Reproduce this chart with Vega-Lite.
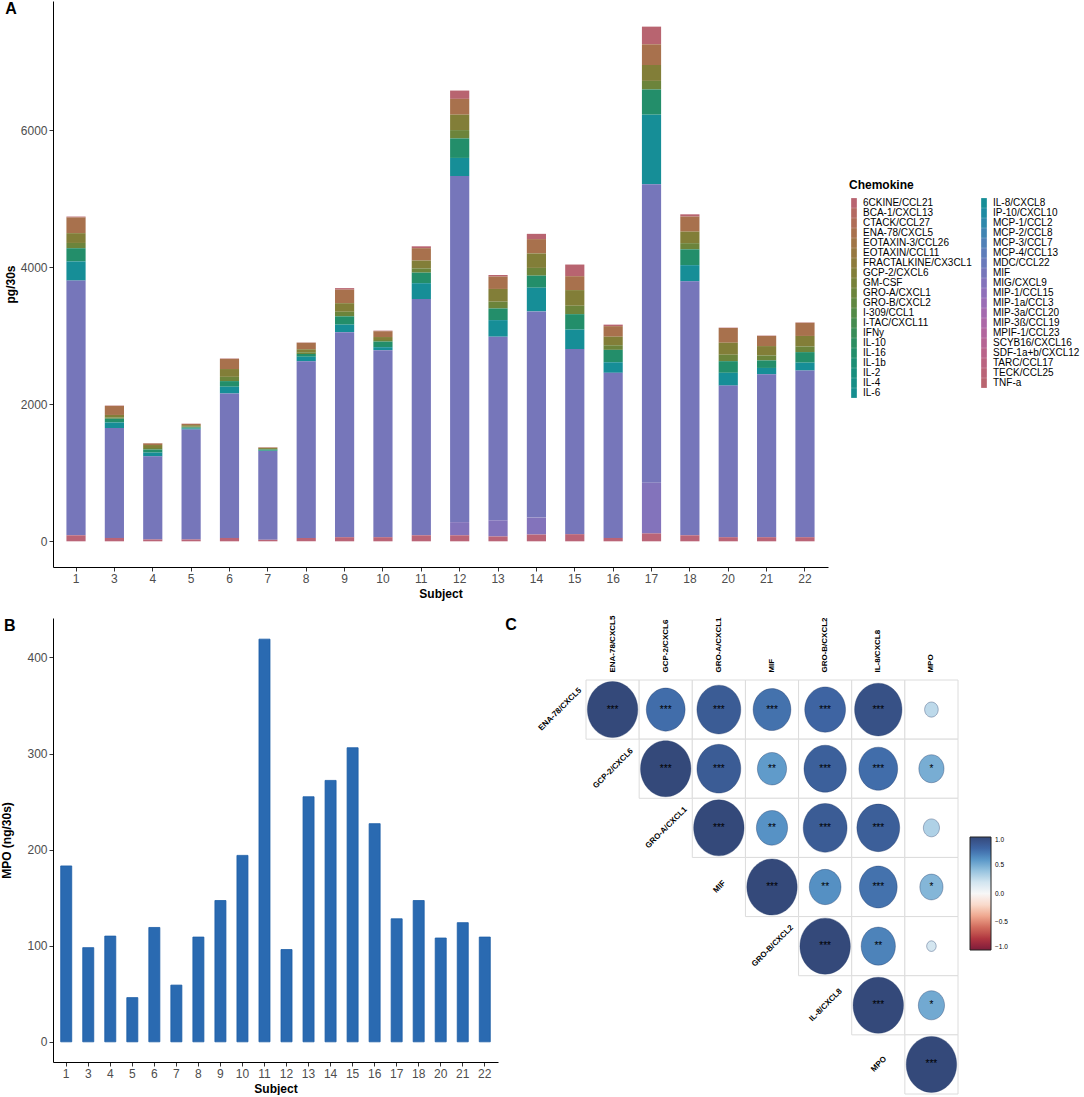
{
  "$schema": "https://vega.github.io/schema/vega-lite/v6.json",
  "background": "white",
  "padding": {"left": 0, "top": 1, "right": 0, "bottom": 0},
  "config": {
    "font": "Liberation Sans",
    "view": {"stroke": null},
    "axis": {"grid": false, "domainColor": "#000000", "domainWidth": 1, "tickColor": "#333333", "tickWidth": 1, "tickSize": 4, "labelPadding": 2, "labelColor": "#4D4D4D", "labelFontSize": 12, "labelFont": "Liberation Sans", "titleFont": "Liberation Sans", "titleFontSize": 12, "titleFontWeight": "bold", "titleColor": "#000000"},
    "title": {"font": "Liberation Sans", "fontSize": 16, "fontWeight": "bold", "color": "#000000", "anchor": "start", "frame": "bounds"}
  },
  "resolve": {"scale": {"color": "independent", "size": "independent"}, "legend": {"color": "independent", "size": "independent"}},
  "spacing": 16,
  "vconcat": [
    {
      "width": 775,
      "height": 566,
      "title": {"text": "A", "orient": "top", "offset": -16, "baseline": "top", "dx": 1},
      "data": {"values": [
        {"Subject":"1","Chemokine":"6CKINE/CCL21","value":12},{"Subject":"1","Chemokine":"ENA-78/CXCL5","value":230},{"Subject":"1","Chemokine":"GCP-2/CXCL6","value":143},{"Subject":"1","Chemokine":"GRO-A/CXCL1","value":77},{"Subject":"1","Chemokine":"IL-16","value":192},{"Subject":"1","Chemokine":"IL-8/CXCL8","value":280},{"Subject":"1","Chemokine":"MIF","value":3717},{"Subject":"1","Chemokine":"TECK/CCL25","value":88},
        {"Subject":"3","Chemokine":"6CKINE/CCL21","value":5},{"Subject":"3","Chemokine":"ENA-78/CXCL5","value":132},{"Subject":"3","Chemokine":"GCP-2/CXCL6","value":36},{"Subject":"3","Chemokine":"GRO-A/CXCL1","value":19},{"Subject":"3","Chemokine":"IL-16","value":55},{"Subject":"3","Chemokine":"IL-8/CXCL8","value":82},{"Subject":"3","Chemokine":"MIF","value":1603},{"Subject":"3","Chemokine":"TECK/CCL25","value":49},
        {"Subject":"4","Chemokine":"6CKINE/CCL21","value":3},{"Subject":"4","Chemokine":"ENA-78/CXCL5","value":24},{"Subject":"4","Chemokine":"GCP-2/CXCL6","value":43},{"Subject":"4","Chemokine":"GRO-A/CXCL1","value":23},{"Subject":"4","Chemokine":"IL-16","value":44},{"Subject":"4","Chemokine":"IL-8/CXCL8","value":55},{"Subject":"4","Chemokine":"MIF","value":1213},{"Subject":"4","Chemokine":"TECK/CCL25","value":27},
        {"Subject":"5","Chemokine":"6CKINE/CCL21","value":3},{"Subject":"5","Chemokine":"ENA-78/CXCL5","value":19},{"Subject":"5","Chemokine":"GCP-2/CXCL6","value":21},{"Subject":"5","Chemokine":"GRO-A/CXCL1","value":12},{"Subject":"5","Chemokine":"IL-16","value":16},{"Subject":"5","Chemokine":"IL-8/CXCL8","value":16},{"Subject":"5","Chemokine":"MIF","value":1603},{"Subject":"5","Chemokine":"TECK/CCL25","value":27},
        {"Subject":"6","Chemokine":"6CKINE/CCL21","value":5},{"Subject":"6","Chemokine":"ENA-78/CXCL5","value":149},{"Subject":"6","Chemokine":"GCP-2/CXCL6","value":114},{"Subject":"6","Chemokine":"GRO-A/CXCL1","value":62},{"Subject":"6","Chemokine":"IL-16","value":82},{"Subject":"6","Chemokine":"IL-8/CXCL8","value":99},{"Subject":"6","Chemokine":"MIF","value":2108},{"Subject":"6","Chemokine":"TECK/CCL25","value":49},
        {"Subject":"7","Chemokine":"6CKINE/CCL21","value":3},{"Subject":"7","Chemokine":"ENA-78/CXCL5","value":8},{"Subject":"7","Chemokine":"GCP-2/CXCL6","value":14},{"Subject":"7","Chemokine":"GRO-A/CXCL1","value":8},{"Subject":"7","Chemokine":"IL-16","value":16},{"Subject":"7","Chemokine":"IL-8/CXCL8","value":5},{"Subject":"7","Chemokine":"MIF","value":1296},{"Subject":"7","Chemokine":"TECK/CCL25","value":22},
        {"Subject":"8","Chemokine":"6CKINE/CCL21","value":5},{"Subject":"8","Chemokine":"ENA-78/CXCL5","value":94},{"Subject":"8","Chemokine":"GCP-2/CXCL6","value":46},{"Subject":"8","Chemokine":"GRO-A/CXCL1","value":25},{"Subject":"8","Chemokine":"IL-16","value":38},{"Subject":"8","Chemokine":"IL-8/CXCL8","value":66},{"Subject":"8","Chemokine":"MIF","value":2580},{"Subject":"8","Chemokine":"TECK/CCL25","value":49},
        {"Subject":"9","Chemokine":"6CKINE/CCL21","value":22},{"Subject":"9","Chemokine":"ENA-78/CXCL5","value":198},{"Subject":"9","Chemokine":"GCP-2/CXCL6","value":125},{"Subject":"9","Chemokine":"GRO-A/CXCL1","value":67},{"Subject":"9","Chemokine":"IL-16","value":121},{"Subject":"9","Chemokine":"IL-8/CXCL8","value":110},{"Subject":"9","Chemokine":"MIF","value":2992},{"Subject":"9","Chemokine":"TECK/CCL25","value":60},
        {"Subject":"10","Chemokine":"6CKINE/CCL21","value":8},{"Subject":"10","Chemokine":"ENA-78/CXCL5","value":85},{"Subject":"10","Chemokine":"GCP-2/CXCL6","value":43},{"Subject":"10","Chemokine":"GRO-A/CXCL1","value":23},{"Subject":"10","Chemokine":"IL-16","value":82},{"Subject":"10","Chemokine":"IL-8/CXCL8","value":44},{"Subject":"10","Chemokine":"MIF","value":2729},{"Subject":"10","Chemokine":"TECK/CCL25","value":60},
        {"Subject":"11","Chemokine":"6CKINE/CCL21","value":27},{"Subject":"11","Chemokine":"ENA-78/CXCL5","value":181},{"Subject":"11","Chemokine":"GCP-2/CXCL6","value":114},{"Subject":"11","Chemokine":"GRO-A/CXCL1","value":62},{"Subject":"11","Chemokine":"IL-16","value":154},{"Subject":"11","Chemokine":"IL-8/CXCL8","value":231},{"Subject":"11","Chemokine":"MIF","value":3448},{"Subject":"11","Chemokine":"TECK/CCL25","value":88},
        {"Subject":"12","Chemokine":"6CKINE/CCL21","value":121},{"Subject":"12","Chemokine":"ENA-78/CXCL5","value":231},{"Subject":"12","Chemokine":"GCP-2/CXCL6","value":225},{"Subject":"12","Chemokine":"GRO-A/CXCL1","value":121},{"Subject":"12","Chemokine":"IL-16","value":285},{"Subject":"12","Chemokine":"IL-8/CXCL8","value":264},{"Subject":"12","Chemokine":"MIF","value":5051},{"Subject":"12","Chemokine":"MIG/CXCL9","value":192},{"Subject":"12","Chemokine":"TECK/CCL25","value":88},
        {"Subject":"13","Chemokine":"6CKINE/CCL21","value":22},{"Subject":"13","Chemokine":"ENA-78/CXCL5","value":181},{"Subject":"13","Chemokine":"GCP-2/CXCL6","value":185},{"Subject":"13","Chemokine":"GRO-A/CXCL1","value":100},{"Subject":"13","Chemokine":"IL-16","value":170},{"Subject":"13","Chemokine":"IL-8/CXCL8","value":242},{"Subject":"13","Chemokine":"MIF","value":2679},{"Subject":"13","Chemokine":"MIG/CXCL9","value":236},{"Subject":"13","Chemokine":"TECK/CCL25","value":71},
        {"Subject":"14","Chemokine":"6CKINE/CCL21","value":77},{"Subject":"14","Chemokine":"ENA-78/CXCL5","value":209},{"Subject":"14","Chemokine":"GCP-2/CXCL6","value":211},{"Subject":"14","Chemokine":"GRO-A/CXCL1","value":113},{"Subject":"14","Chemokine":"IL-16","value":176},{"Subject":"14","Chemokine":"IL-8/CXCL8","value":346},{"Subject":"14","Chemokine":"MIF","value":3009},{"Subject":"14","Chemokine":"MIG/CXCL9","value":247},{"Subject":"14","Chemokine":"TECK/CCL25","value":99},
        {"Subject":"15","Chemokine":"6CKINE/CCL21","value":170},{"Subject":"15","Chemokine":"ENA-78/CXCL5","value":203},{"Subject":"15","Chemokine":"GCP-2/CXCL6","value":228},{"Subject":"15","Chemokine":"GRO-A/CXCL1","value":123},{"Subject":"15","Chemokine":"IL-16","value":225},{"Subject":"15","Chemokine":"IL-8/CXCL8","value":285},{"Subject":"15","Chemokine":"MIF","value":2701},{"Subject":"15","Chemokine":"TECK/CCL25","value":104},
        {"Subject":"16","Chemokine":"6CKINE/CCL21","value":22},{"Subject":"16","Chemokine":"ENA-78/CXCL5","value":154},{"Subject":"16","Chemokine":"GCP-2/CXCL6","value":125},{"Subject":"16","Chemokine":"GRO-A/CXCL1","value":67},{"Subject":"16","Chemokine":"IL-16","value":181},{"Subject":"16","Chemokine":"IL-8/CXCL8","value":154},{"Subject":"16","Chemokine":"MIF","value":2410},{"Subject":"16","Chemokine":"TECK/CCL25","value":49},
        {"Subject":"17","Chemokine":"6CKINE/CCL21","value":258},{"Subject":"17","Chemokine":"ENA-78/CXCL5","value":302},{"Subject":"17","Chemokine":"GCP-2/CXCL6","value":232},{"Subject":"17","Chemokine":"GRO-A/CXCL1","value":125},{"Subject":"17","Chemokine":"IL-16","value":368},{"Subject":"17","Chemokine":"IL-8/CXCL8","value":1016},{"Subject":"17","Chemokine":"MIF","value":4354},{"Subject":"17","Chemokine":"MIG/CXCL9","value":741},{"Subject":"17","Chemokine":"TECK/CCL25","value":115},
        {"Subject":"18","Chemokine":"6CKINE/CCL21","value":33},{"Subject":"18","Chemokine":"ENA-78/CXCL5","value":220},{"Subject":"18","Chemokine":"GCP-2/CXCL6","value":168},{"Subject":"18","Chemokine":"GRO-A/CXCL1","value":90},{"Subject":"18","Chemokine":"IL-16","value":231},{"Subject":"18","Chemokine":"IL-8/CXCL8","value":236},{"Subject":"18","Chemokine":"MIF","value":3706},{"Subject":"18","Chemokine":"TECK/CCL25","value":88},
        {"Subject":"20","Chemokine":"6CKINE/CCL21","value":5},{"Subject":"20","Chemokine":"ENA-78/CXCL5","value":215},{"Subject":"20","Chemokine":"GCP-2/CXCL6","value":175},{"Subject":"20","Chemokine":"GRO-A/CXCL1","value":94},{"Subject":"20","Chemokine":"IL-16","value":170},{"Subject":"20","Chemokine":"IL-8/CXCL8","value":187},{"Subject":"20","Chemokine":"MIF","value":2212},{"Subject":"20","Chemokine":"TECK/CCL25","value":60},
        {"Subject":"21","Chemokine":"6CKINE/CCL21","value":5},{"Subject":"21","Chemokine":"ENA-78/CXCL5","value":148},{"Subject":"21","Chemokine":"GCP-2/CXCL6","value":136},{"Subject":"21","Chemokine":"GRO-A/CXCL1","value":73},{"Subject":"21","Chemokine":"IL-16","value":110},{"Subject":"21","Chemokine":"IL-8/CXCL8","value":93},{"Subject":"21","Chemokine":"MIF","value":2377},{"Subject":"21","Chemokine":"TECK/CCL25","value":60},
        {"Subject":"22","Chemokine":"6CKINE/CCL21","value":5},{"Subject":"22","Chemokine":"ENA-78/CXCL5","value":192},{"Subject":"22","Chemokine":"GCP-2/CXCL6","value":153},{"Subject":"22","Chemokine":"GRO-A/CXCL1","value":83},{"Subject":"22","Chemokine":"IL-16","value":154},{"Subject":"22","Chemokine":"IL-8/CXCL8","value":115},{"Subject":"22","Chemokine":"MIF","value":2432},{"Subject":"22","Chemokine":"TECK/CCL25","value":60}
      ]},
      "mark": {"type": "bar"},
      "encoding": {
        "x": {"field": "Subject", "type": "nominal", "sort": ["1","3","4","5","6","7","8","9","10","11","12","13","14","15","16","17","18","20","21","22"], "scale": {"paddingInner": 0.5, "paddingOuter": 0.35}, "axis": {"labelAngle": 0, "title": "Subject", "titlePadding": 4}},
        "y": {"field": "value", "type": "quantitative", "stack": "zero", "scale": {"domain": [-375, 7885], "nice": false, "zero": false}, "axis": {"values": [0, 2000, 4000, 6000], "format": "d", "title": "pg/30s", "titlePadding": 3}},
        "color": {
          "field": "Chemokine", "type": "nominal",
          "scale": {
            "domain": ["6CKINE/CCL21","BCA-1/CXCL13","CTACK/CCL27","ENA-78/CXCL5","EOTAXIN-3/CCL26","EOTAXIN/CCL11","FRACTALKINE/CX3CL1","GCP-2/CXCL6","GM-CSF","GRO-A/CXCL1","GRO-B/CXCL2","I-309/CCL1","I-TAC/CXCL11","IFNy","IL-10","IL-16","IL-1b","IL-2","IL-4","IL-6","IL-8/CXCL8","IP-10/CXCL10","MCP-1/CCL2","MCP-2/CCL8","MCP-3/CCL7","MCP-4/CCL13","MDC/CCL22","MIF","MIG/CXCL9","MIP-1/CCL15","MIP-1a/CCL3","MIP-3a/CCL20","MIP-3ß/CCL19","MPIF-1/CCL23","SCYB16/CXCL16","SDF-1a+b/CXCL12","TARC/CCL17","TECK/CCL25","TNF-a"],
            "range": ["#B86470","#B46A62","#AF6D57","#A8714D","#A07546","#977840","#8D7B3B","#827E38","#778138","#6C843B","#608740","#538A47","#458B4F","#388D58","#2C8E61","#238E6A","#1C8E74","#188E7D","#178E86","#168E8F","#168E97","#1E8BA2","#2E88AB","#4084B2","#5080B7","#5E7DBA","#6A7ABB","#7676BA","#8373BB","#8F70BA","#9A6DB6","#A46AAF","#AC68A7","#B2669E","#B66594","#B9648A","#BA6480","#BA6477","#B9646F"]
          },
          "legend": {"orient": "none", "legendX": 796, "legendY": 179, "title": "Chemokine", "titleFontSize": 12, "titleFontWeight": "bold", "titleColor": "#000000", "titleFont": "Liberation Sans", "titlePadding": 6, "labelFont": "Liberation Sans", "labelFontSize": 10, "labelColor": "#000000", "labelLimit": 300, "columns": 2, "columnPadding": 7, "rowPadding": 0, "symbolType": "M -0.58 -1 L 0.58 -1 L 0.58 1 L -0.58 1 Z", "symbolSize": 96, "symbolStrokeWidth": 0, "symbolLimit": 60, "labelOffset": 4, "padding": 0}
        },
        "order": {"field": "Chemokine", "sort": "descending"}
      }
    },
    {
      "spacing": 7,
      "resolve": {"scale": {"color": "independent", "size": "independent"}, "legend": {"color": "independent", "size": "independent"}},
      "hconcat": [
        {
          "width": 445,
          "height": 444,
          "title": {"text": "B", "orient": "top", "offset": -16, "baseline": "top", "dx": 3},
          "data": {"values": [
            {"Subject":"1","MPO":183},{"Subject":"3","MPO":98},{"Subject":"4","MPO":110},{"Subject":"5","MPO":46},{"Subject":"6","MPO":119},{"Subject":"7","MPO":59},{"Subject":"8","MPO":109},{"Subject":"9","MPO":147},{"Subject":"10","MPO":194},{"Subject":"11","MPO":419},{"Subject":"12","MPO":96},{"Subject":"13","MPO":255},{"Subject":"14","MPO":272},{"Subject":"15","MPO":306},{"Subject":"16","MPO":227},{"Subject":"17","MPO":128},{"Subject":"18","MPO":147},{"Subject":"20","MPO":108},{"Subject":"21","MPO":124},{"Subject":"22","MPO":109}
          ]},
          "mark": {"type": "bar", "fill": "#2A6AB1", "stroke": "#1C5DA6", "strokeWidth": 0.8},
          "encoding": {
            "x": {"field": "Subject", "type": "nominal", "sort": ["1","3","4","5","6","7","8","9","10","11","12","13","14","15","16","17","18","20","21","22"], "scale": {"paddingInner": 0.5, "paddingOuter": 0.35}, "axis": {"labelAngle": 0, "title": "Subject", "titlePadding": 4}},
            "y": {"field": "MPO", "type": "quantitative", "scale": {"domain": [-21, 441], "nice": false, "zero": false}, "axis": {"values": [0, 100, 200, 300, 400], "title": "MPO (ng/30s)", "titlePadding": 13}}
          }
        },
        {
          "width": 372,
          "height": 476,
          "title": {"text": "C", "orient": "top", "offset": -17, "baseline": "top", "dx": -32},
          "data": {"values": [
            {"row":"ENA-78/CXCL5","col":"ENA-78/CXCL5","r":1,"sig":"***"},
            {"row":"ENA-78/CXCL5","col":"GCP-2/CXCL6","r":0.77,"sig":"***"},
            {"row":"ENA-78/CXCL5","col":"GRO-A/CXCL1","r":0.87,"sig":"***"},
            {"row":"ENA-78/CXCL5","col":"MIF","r":0.75,"sig":"***"},
            {"row":"ENA-78/CXCL5","col":"GRO-B/CXCL2","r":0.81,"sig":"***"},
            {"row":"ENA-78/CXCL5","col":"IL-8/CXCL8","r":0.94,"sig":"***"},
            {"row":"ENA-78/CXCL5","col":"MPO","r":0.27,"sig":""},
            {"row":"GCP-2/CXCL6","col":"GCP-2/CXCL6","r":1,"sig":"***"},
            {"row":"GCP-2/CXCL6","col":"GRO-A/CXCL1","r":0.87,"sig":"***"},
            {"row":"GCP-2/CXCL6","col":"MIF","r":0.58,"sig":"**"},
            {"row":"GCP-2/CXCL6","col":"GRO-B/CXCL2","r":0.84,"sig":"***"},
            {"row":"GCP-2/CXCL6","col":"IL-8/CXCL8","r":0.77,"sig":"***"},
            {"row":"GCP-2/CXCL6","col":"MPO","r":0.5,"sig":"*"},
            {"row":"GRO-A/CXCL1","col":"GRO-A/CXCL1","r":1,"sig":"***"},
            {"row":"GRO-A/CXCL1","col":"MIF","r":0.62,"sig":"**"},
            {"row":"GRO-A/CXCL1","col":"GRO-B/CXCL2","r":0.87,"sig":"***"},
            {"row":"GRO-A/CXCL1","col":"IL-8/CXCL8","r":0.85,"sig":"***"},
            {"row":"GRO-A/CXCL1","col":"MPO","r":0.32,"sig":""},
            {"row":"MIF","col":"MIF","r":1,"sig":"***"},
            {"row":"MIF","col":"GRO-B/CXCL2","r":0.63,"sig":"**"},
            {"row":"MIF","col":"IL-8/CXCL8","r":0.75,"sig":"***"},
            {"row":"MIF","col":"MPO","r":0.46,"sig":"*"},
            {"row":"GRO-B/CXCL2","col":"GRO-B/CXCL2","r":1,"sig":"***"},
            {"row":"GRO-B/CXCL2","col":"IL-8/CXCL8","r":0.68,"sig":"**"},
            {"row":"GRO-B/CXCL2","col":"MPO","r":0.19,"sig":""},
            {"row":"IL-8/CXCL8","col":"IL-8/CXCL8","r":1,"sig":"***"},
            {"row":"IL-8/CXCL8","col":"MPO","r":0.52,"sig":"*"},
            {"row":"MPO","col":"MPO","r":1,"sig":"***"}
          ]},
          "encoding": {
            "x": {"field": "col", "type": "nominal", "sort": ["ENA-78/CXCL5","GCP-2/CXCL6","GRO-A/CXCL1","MIF","GRO-B/CXCL2","IL-8/CXCL8","MPO"], "scale": {"domain": ["ENA-78/CXCL5","GCP-2/CXCL6","GRO-A/CXCL1","MIF","GRO-B/CXCL2","IL-8/CXCL8","MPO"], "paddingInner": 0, "paddingOuter": 0}, "axis": null},
            "y": {"field": "row", "type": "nominal", "sort": ["ENA-78/CXCL5","GCP-2/CXCL6","GRO-A/CXCL1","MIF","GRO-B/CXCL2","IL-8/CXCL8","MPO"], "scale": {"domain": ["ENA-78/CXCL5","GCP-2/CXCL6","GRO-A/CXCL1","MIF","GRO-B/CXCL2","IL-8/CXCL8","MPO"], "range": [62, 476], "paddingInner": 0, "paddingOuter": 0}, "axis": null}
          },
          "layer": [
            {"mark": {"type": "rect", "fill": "#FFFFFF", "stroke": "#DCDCDC", "strokeWidth": 1}},
            {
              "mark": {"type": "point", "filled": true, "shape": "M -0.9 0 A 0.9 1 0 1 0 0.9 0 A 0.9 1 0 1 0 -0.9 0 Z", "opacity": 1, "stroke": "#1E3560", "strokeOpacity": 0.35, "strokeWidth": 1},
              "encoding": {
                "size": {"field": "r", "type": "quantitative", "scale": {"type": "pow", "exponent": 2, "domain": [0, 1], "range": [0, 3136], "zero": true}, "legend": null},
                "color": {"field": "r", "type": "quantitative",
                  "scale": {"domain": [-1, -0.8, -0.6, -0.4, -0.2, 0, 0.2, 0.4, 0.6, 0.8, 1], "range": ["#7D1D3A", "#B03640", "#D16B5D", "#EFA78F", "#F9DACB", "#F7F7F7", "#D2E5F0", "#97C3DF", "#5A97C8", "#3E66A4", "#34497A"]},
                  "legend": {"orient": "none", "legendX": 384, "legendY": 219, "title": null, "direction": "vertical", "gradientLength": 113, "gradientThickness": 21, "values": [1, 0.5, 0, -0.5, -1], "format": ".1f", "labelFontSize": 6.5, "labelColor": "#000000", "labelOffset": 4, "gradientStrokeColor": "#222222", "gradientStrokeWidth": 1, "padding": 0}
                }
              }
            },
            {"mark": {"type": "text", "fontSize": 10, "color": "#000000", "align": "center", "baseline": "middle"}, "encoding": {"text": {"field": "sig"}}},
            {
              "transform": [{"filter": "datum.row === datum.col"}],
              "mark": {"type": "text", "angle": 315, "dx": -37, "dy": -37, "fontSize": 8, "fontWeight": "bold", "color": "#000000", "align": "center", "baseline": "middle"},
              "encoding": {"text": {"field": "row"}}
            },
            {
              "transform": [{"filter": "datum.row === datum.col"}],
              "mark": {"type": "text", "angle": 270, "dx": 37, "fontSize": 8, "fontWeight": "bold", "color": "#000000", "align": "left", "baseline": "middle"},
              "encoding": {"text": {"field": "col"}, "y": {"datum": "ENA-78/CXCL5", "type": "nominal"}}
            }
          ]
        }
      ]
    }
  ]
}
